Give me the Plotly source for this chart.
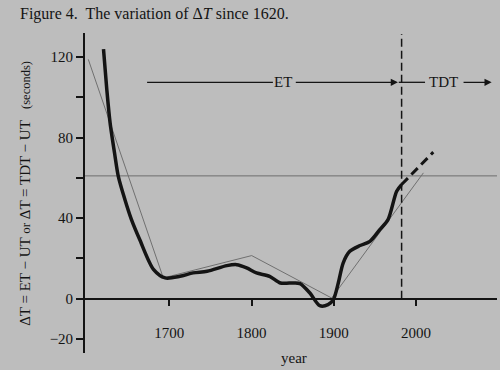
import plotly.graph_objects as go

# ---- data ----
curve_years = [1620, 1624, 1628, 1634, 1638, 1646, 1654, 1664, 1681, 1695, 1713, 1729,
               1746, 1770, 1782, 1794, 1806, 1822, 1835, 1851, 1859, 1871, 1883, 1893,
               1899.5, 1905.5, 1911.5, 1919.5, 1932, 1944, 1956, 1966, 1976.5, 1982.5]
curve_values = [124, 104, 87.4, 70.8, 60.8, 49.3, 39.3, 29.4, 14.4, 10.3, 11.1, 12.8,
                13.6, 16.4, 16.9, 15.3, 12.8, 11.1, 7.8, 7.8, 7.5, 2.8, -3.5, -3,
                -0.5, 7.8, 17.8, 23.5, 26.4, 28.5, 34.3, 39.3, 53.4, 56.7]
future_years = [1982.5, 2021]
future_values = [56.7, 72.8]
fit_years = [1601.5, 1692.7, 1800.2, 1897.5, 2009]
fit_values = [118.9, 10.3, 21.4, 0.3, 62.5]
tdt_year = 1982.5
ref_level = 61
y_tickvals = [-20, 0, 20, 40, 60, 80, 100, 120]
y_ticktext = ["\u221220", "0", "", "40", "", "80", "", "120"]
x_tickvals = [1700, 1800, 1900, 2000]
x_ticktext = ["1700", "1800", "1900", "2000"]
era_y = 107.5

BG = "#bdbdbd"
INK = "#141414"
SERIF = "Liberation Serif, Times New Roman, serif"

fig = go.Figure()

# faint horizontal line across the page
fig.add_trace(go.Scatter(x=[1597.5, 2100], y=[ref_level, ref_level], mode="lines",
                         line=dict(color="#6e6e6e", width=1), hoverinfo="skip"))
# thin straight segments
fig.add_trace(go.Scatter(x=fit_years, y=fit_values, mode="lines",
                         line=dict(color="#707070", width=1), hoverinfo="skip"))
# thick curve
fig.add_trace(go.Scatter(x=curve_years, y=curve_values, mode="lines",
                         line=dict(color=INK, width=3.5, shape="spline", smoothing=0.8)))
# dashed extension
fig.add_trace(go.Scatter(x=future_years, y=future_values, mode="lines",
                         line=dict(color=INK, width=3, dash="9px,5px")))
# vertical dashed line ET/TDT boundary
fig.add_trace(go.Scatter(x=[tdt_year, tdt_year], y=[0, 131.5], mode="lines",
                         line=dict(color=INK, width=1.5, dash="8px,4px")))
# ET line (left part, no arrow)
fig.add_trace(go.Scatter(x=[1673, 1826], y=[era_y, era_y], mode="lines",
                         line=dict(color=INK, width=1.3)))
# TDT short line left of text
fig.add_trace(go.Scatter(x=[1979, 2011], y=[era_y, era_y], mode="lines",
                         line=dict(color=INK, width=1.3)))

annotations = [
    # ET arrow
    dict(x=1978, y=era_y, ax=1852, ay=era_y, xref="x", yref="y", axref="x", ayref="y",
         showarrow=True, arrowhead=2, arrowsize=1.1, arrowwidth=1.3, arrowcolor=INK, text=""),
    dict(x=1838, y=era_y, xref="x", yref="y", text="ET", showarrow=False,
         font=dict(family=SERIF, size=15, color=INK)),
    # TDT arrow
    dict(x=2092, y=era_y, ax=2056, ay=era_y, xref="x", yref="y", axref="x", ayref="y",
         showarrow=True, arrowhead=2, arrowsize=1.1, arrowwidth=1.3, arrowcolor=INK, text=""),
    dict(x=2034, y=era_y, xref="x", yref="y", text="TDT", showarrow=False,
         font=dict(family=SERIF, size=15, color=INK)),
    # title
    dict(x=-0.163, y=1.059, xref="paper", yref="paper", xanchor="left", yanchor="middle",
         text="Figure 4.\u00a0 The variation of \u0394<i>T</i> since 1620.", showarrow=False,
         font=dict(family=SERIF, size=16, color=INK)),
    # year label
    dict(x=0.508, y=-0.016, xref="paper", yref="paper", text="year", showarrow=False,
         font=dict(family=SERIF, size=15, color=INK), xanchor="center", yanchor="middle"),
    # y-axis title
    dict(x=-0.146, y=0.5, xref="paper", yref="paper", textangle=-90, showarrow=False,
         text="\u0394T = ET \u2212 UT <span style='font-size:13px'>or</span> \u0394T = TDT \u2212 UT\u00a0\u00a0\u00a0<span style='font-size:12.5px'>(seconds)</span>",
         font=dict(family=SERIF, size=15, color=INK), xanchor="center", yanchor="middle"),
]

fig.update_layout(
    width=500, height=370, autosize=False,
    margin=dict(l=85, r=3, t=33, b=17),
    paper_bgcolor=BG, plot_bgcolor=BG,
    showlegend=False,
    annotations=annotations,
    xaxis=dict(range=[1597.5, 2098.5], showgrid=False, zeroline=False,
               showline=True, linecolor=INK, linewidth=1.8,
               anchor="free", position=0.17,
               ticks="outside", ticklen=6, tickwidth=1.8, tickcolor=INK,
               tickvals=x_tickvals, ticktext=x_ticktext, ticklabelstandoff=14,
               tickfont=dict(family=SERIF, size=15, color=INK)),
    yaxis=dict(range=[-27, 132], showgrid=False, zeroline=False,
               showline=True, linecolor=INK, linewidth=1.8,
               ticks="outside", ticklen=7, tickwidth=1.8, tickcolor=INK,
               tickvals=y_tickvals, ticktext=y_ticktext,
               tickfont=dict(family=SERIF, size=15, color=INK)),
)

fig.write_html("out.html", config={"displayModeBar": False},
               post_script="document.body.style.margin='0';document.body.style.background='#bdbdbd';")
